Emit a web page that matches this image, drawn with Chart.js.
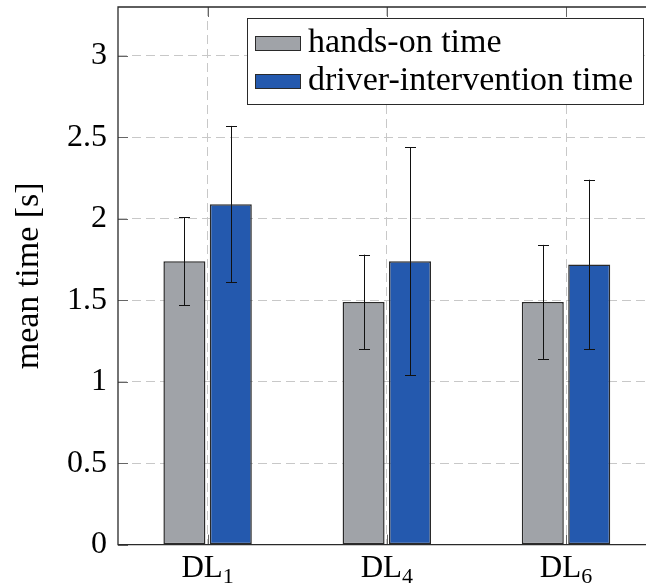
<!DOCTYPE html>
<html>
<head>
<meta charset="utf-8">
<script src="https://cdn.jsdelivr.net/npm/chart.js@4"></script>
<style>
  html, body { margin: 0; padding: 0; background: #fff; overflow: hidden; }
  #wrap { width: 660px; height: 586px; position: relative; }
</style>
</head>
<body>
<div id="wrap"><canvas id="chart"></canvas></div>
<script>
const categories = ['DL_1', 'DL_4', 'DL_6'];
const seriesNames = ['hands-on time', 'driver-intervention time'];
const handsOnMean = [1.74, 1.49, 1.49];
const handsOnErr = [0.27, 0.29, 0.35];
const interventionMean = [2.09, 1.74, 1.72];
const interventionErr = [0.48, 0.70, 0.52];
const yTicks = [0, 0.5, 1, 1.5, 2, 2.5, 3];
const yMax = 3.3;

const FONT = "'Liberation Serif', 'Times New Roman', serif";
const GRID = '#c8c8c8';
const FRAME = '#2a2a2a';

const errorBars = {
  id: 'errorBars',
  afterDatasetsDraw(chart) {
    const { ctx, scales: { y } } = chart;
    ctx.save();
    ctx.strokeStyle = '#111';
    ctx.lineWidth = 1;
    chart.data.datasets.forEach((ds, di) => {
      const meta = chart.getDatasetMeta(di);
      meta.data.forEach((bar, i) => {
        const m = ds.data[i].y, e = ds.errors[i];
        const top = y.getPixelForValue(m + e);
        const bot = y.getPixelForValue(m - e);
        const x = Math.round(bar.x) + 0.5;
        ctx.beginPath();
        ctx.moveTo(x, top); ctx.lineTo(x, bot);
        ctx.moveTo(x - 5.5, Math.round(top) + 0.5); ctx.lineTo(x + 5.5, Math.round(top) + 0.5);
        ctx.moveTo(x - 5.5, Math.round(bot) + 0.5); ctx.lineTo(x + 5.5, Math.round(bot) + 0.5);
        ctx.stroke();
      });
    });
    ctx.restore();
  }
};

const frameAndLegend = {
  id: 'frameAndLegend',
  afterDraw(chart) {
    const { ctx, chartArea: { left, top, right, bottom }, scales: { x, y } } = chart;
    ctx.save();

    // inner tick marks
    ctx.strokeStyle = '#666';
    ctx.lineWidth = 1;
    ctx.beginPath();
    yTicks.forEach(v => {
      const py = Math.round(y.getPixelForValue(v)) + 0.5;
      ctx.moveTo(left, py); ctx.lineTo(left + 10, py);
    });
    categories.forEach((c, i) => {
      const px = Math.round(x.getPixelForValue(i)) + 0.5;
      ctx.moveTo(px, top); ctx.lineTo(px, top + 10);
      ctx.moveTo(px, bottom); ctx.lineTo(px, bottom - 10);
    });
    ctx.stroke();

    // frame (right side lies outside the picture)
    ctx.strokeStyle = FRAME;
    ctx.lineWidth = 1.3;
    ctx.beginPath();
    ctx.moveTo(right, top);
    ctx.lineTo(left, top);
    ctx.lineTo(left, bottom);
    ctx.lineTo(right, bottom);
    ctx.stroke();

    // x labels with subscripts
    ctx.fillStyle = '#000';
    ctx.textBaseline = 'alphabetic';
    ctx.textAlign = 'left';
    categories.forEach((c, i) => {
      const [base, sub] = c.split('_');
      ctx.font = `31px ${FONT}`;
      const wb = ctx.measureText(base).width;
      ctx.font = `22px ${FONT}`;
      const ws = ctx.measureText(sub).width;
      const cx = x.getPixelForValue(i);
      const sx = cx - (wb + ws) / 2;
      ctx.font = `31px ${FONT}`;
      ctx.fillText(base, sx, bottom + 32);
      ctx.font = `22px ${FONT}`;
      ctx.fillText(sub, sx + wb, bottom + 38);
    });

    // legend
    const lx = 247.5, ly = 18.5, lw = 396, lh = 86;
    ctx.fillStyle = '#fff';
    ctx.fillRect(lx, ly, lw, lh);
    ctx.strokeStyle = FRAME;
    ctx.lineWidth = 1;
    ctx.strokeRect(lx, ly, lw, lh);
    chart.data.datasets.forEach((ds, di) => {
      const sy = 36 + di * 38;
      ctx.fillStyle = ds.backgroundColor;
      ctx.fillRect(255.5, sy + 0.5, 45, 14);
      ctx.strokeStyle = FRAME;
      ctx.strokeRect(255.5, sy + 0.5, 45, 14);
      ctx.fillStyle = '#000';
      ctx.font = `34px ${FONT}`;
      ctx.fillText(ds.label, 308, 52 + di * 38);
    });
    ctx.restore();
  }
};

new Chart(document.getElementById('chart'), {
  type: 'bar',
  plugins: [errorBars, frameAndLegend],
  data: {
    datasets: [
      {
        label: seriesNames[0],
        data: handsOnMean.map((v, i) => ({ x: i, y: v })),
        errors: handsOnErr,
        backgroundColor: '#a0a3a8',
        borderColor: FRAME,
        borderWidth: 1.5,
        borderSkipped: false
      },
      {
        label: seriesNames[1],
        data: interventionMean.map((v, i) => ({ x: i, y: v })),
        errors: interventionErr,
        backgroundColor: '#2459ae',
        borderColor: FRAME,
        borderWidth: 1.5,
        borderSkipped: false
      }
    ]
  },
  options: {
    responsive: true,
    maintainAspectRatio: false,
    animation: false,
    categoryPercentage: 0.518,
    barPercentage: 0.905,
    layout: { padding: { top: 7, right: 4.4, bottom: 41.3, left: 0 } },
    plugins: { legend: { display: false }, tooltip: { enabled: false } },
    scales: {
      x: {
        type: 'linear',
        min: -0.5,
        max: 2.5,
        offset: false,
        afterBuildTicks: s => { s.ticks = categories.map((c, i) => ({ value: i })); },
        afterFit: s => { s.height = 0; s.paddingLeft = 0; s.paddingRight = 0; },
        ticks: { display: false },
        grid: { color: GRID, drawTicks: false, offset: false },
        border: { display: false, dash: [9, 5] }
      },
      y: {
        min: 0,
        max: yMax,
        afterBuildTicks: s => { s.ticks = yTicks.map(v => ({ value: v })); },
        afterFit: s => { s.width = 118; s.paddingTop = 0; s.paddingBottom = 0; },
        ticks: {
          color: '#000',
          padding: 11,
          font: { family: FONT, size: 32 },
          callback: v => String(v)
        },
        grid: { color: GRID, drawTicks: false },
        border: { display: false, dash: [9, 5] },
        title: {
          display: true,
          text: 'mean time [s]',
          color: '#000',
          padding: { top: 9, bottom: 0 },
          font: { family: FONT, size: 34 }
        }
      }
    }
  }
});
</script>
</body>
</html>
